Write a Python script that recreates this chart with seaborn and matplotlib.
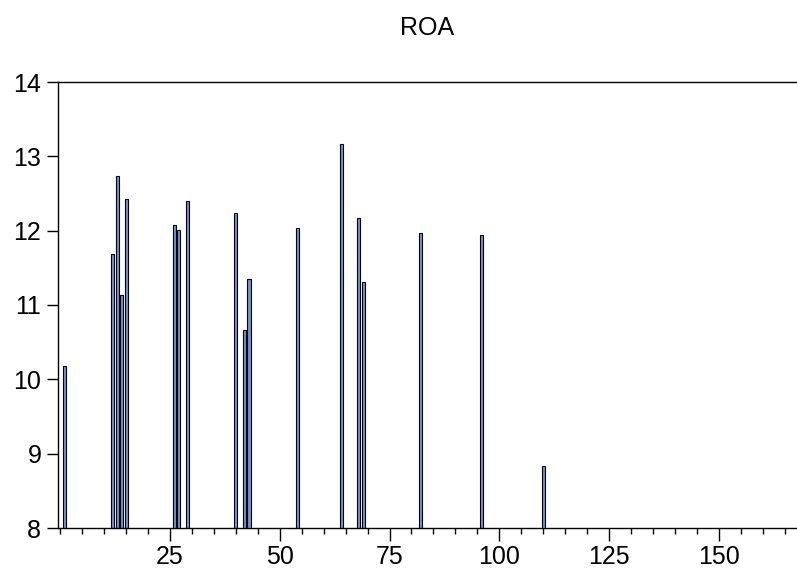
import matplotlib
matplotlib.use("Agg")
import matplotlib.pyplot as plt
from matplotlib.ticker import MultipleLocator
import seaborn as sns

obs = [1, 12, 13, 14, 15, 26, 27, 29, 40, 42, 43, 54, 64, 68, 69, 82, 96, 110]
roa = [10.18, 11.68, 12.73, 11.13, 12.42, 12.07, 12.01, 12.40, 12.24, 10.66,
       11.35, 12.03, 13.17, 12.17, 11.31, 11.97, 11.94, 8.83]
title = "ROA"

sns.set_theme(style="white")
plt.rcParams["font.family"] = ["Liberation Sans", "DejaVu Sans"]
plt.rcParams["text.color"] = "black"
plt.rcParams["xtick.color"] = "black"
plt.rcParams["ytick.color"] = "black"

fig = plt.figure(figsize=(7.97, 5.77), dpi=100)
ax = fig.add_axes([58 / 797, 1 - 528 / 577, (797 - 58) / 797, (528 - 82) / 577])

sns.barplot(x=obs, y=roa, native_scale=True, width=0.7, color="#6f97d6",
            saturation=1, edgecolor="black", linewidth=0.8, ax=ax)

ax.set_xlim(-0.5, 167.8)
ax.set_ylim(8, 14)
ax.xaxis.set_major_locator(MultipleLocator(25))
ax.xaxis.set_minor_locator(MultipleLocator(5))
ax.set_xticks([25, 50, 75, 100, 125, 150])
ax.set_yticks(range(8, 15))

for s in ["left", "top", "bottom"]:
    ax.spines[s].set_visible(True)
    ax.spines[s].set_color("black")
    ax.spines[s].set_linewidth(1.0)
ax.spines["right"].set_visible(False)

ax.tick_params(axis="x", which="major", direction="out", length=9, width=1,
               color="black", labelcolor="black", labelsize=18, pad=3, bottom=True)
ax.tick_params(axis="x", which="minor", direction="out", length=4.5, width=1,
               color="black", bottom=True)
ax.tick_params(axis="y", which="major", direction="out", length=8, width=1,
               color="black", labelcolor="black", labelsize=18, pad=4, left=True)
ax.set_xlabel("")
ax.set_ylabel("")
ax.grid(False)

fig.text((58 + 797) / 2 / 797, 1 - 28 / 577, title, ha="center", va="center",
         fontsize=18, color="black")

fig.savefig("out.png", dpi=100)
